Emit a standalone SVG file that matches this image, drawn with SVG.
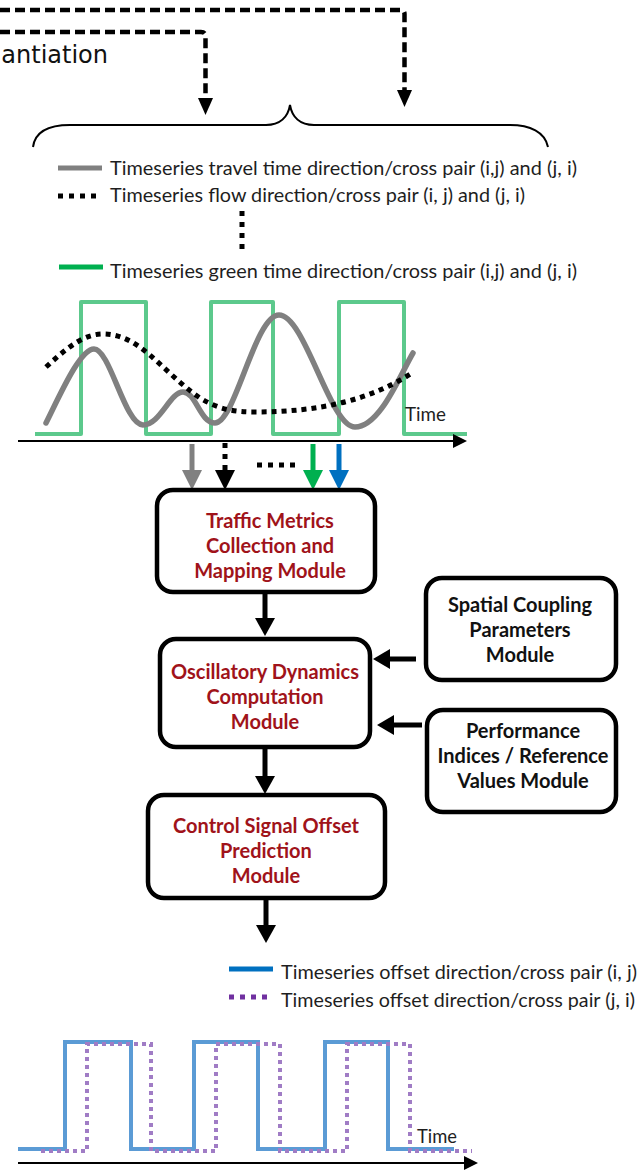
<svg xmlns="http://www.w3.org/2000/svg" width="638" height="1171" viewBox="0 0 638 1171">
  <defs>
    <style>
      .box { fill: #ffffff; stroke: #000000; stroke-width: 4.5; }
      .red { font-family: Lato, "Liberation Sans", sans-serif; font-weight: 700; font-size: 20px; fill: #a0131a; text-anchor: middle; }
      .blk { font-family: Lato, "Liberation Sans", sans-serif; font-weight: 700; font-size: 20px; fill: #111111; text-anchor: middle; }
      .leg { font-family: Lato, "Liberation Sans", sans-serif; font-size: 19px; fill: #1e1e1e; }
      .flow { stroke: #000000; stroke-width: 5; fill: none; }
      .dash { stroke: #000000; stroke-width: 4.5; fill: none; stroke-dasharray: 10 5; }
      .axis { stroke: #000000; stroke-width: 2; fill: none; }
    </style>
  </defs>

  <!-- dashed feeds from the instantiation stage -->
  <g id="instantiation">
    <text x="108" y="63" font-family="DejaVu Sans, sans-serif" font-size="24" text-anchor="end" fill="#111111">antiation</text>
  </g>

  <g id="connectors">
    <!-- dashed top feeds -->
    <path class="dash" d="M0,10 H400 Q404.5,10 404.5,14 V90"/>
    <polygon points="397,90 412,90 404.5,107" fill="#000"/>
    <path class="dash" d="M0,32 H201 Q205.5,32 205.5,36 V98"/>
    <polygon points="198,98 213,98 205.5,115" fill="#000"/>

    <!-- metric arrows into the collection module -->
    <line x1="192" y1="444" x2="192" y2="471" stroke="#808080" stroke-width="5"/>
    <polygon points="182,470 202,470 192,490" fill="#808080"/>
    <line x1="225" y1="443" x2="225" y2="470" stroke="#000" stroke-width="5" stroke-dasharray="5 6"/>
    <polygon points="215,470 235,470 225,490" fill="#000"/>
    <line x1="257" y1="465" x2="298" y2="465" stroke="#000" stroke-width="5" stroke-dasharray="5 6"/>
    <line x1="313" y1="444" x2="313" y2="471" stroke="#00b050" stroke-width="5"/>
    <polygon points="303,470 323,470 313,490" fill="#00b050"/>
    <line x1="339" y1="444" x2="339" y2="471" stroke="#0070c0" stroke-width="5"/>
    <polygon points="329,470 349,470 339,490" fill="#0070c0"/>

    <!-- module chain -->
    <line class="flow" x1="265" y1="592" x2="265" y2="619"/>
    <polygon points="255,618 275,618 265,636" fill="#000"/>
    <line class="flow" x1="416" y1="659" x2="389" y2="659"/>
    <polygon points="390,649 390,669 373,659" fill="#000"/>
    <line class="flow" x1="422" y1="725" x2="393" y2="725"/>
    <polygon points="394,715 394,735 377,725" fill="#000"/>
    <line class="flow" x1="265" y1="747" x2="265" y2="777"/>
    <polygon points="255,776 275,776 265,794" fill="#000"/>
    <line class="flow" x1="266" y1="898" x2="266" y2="926"/>
    <polygon points="256,925 276,925 266,943" fill="#000"/>
  </g>

  <!-- brace grouping the input time series -->
  <g id="brace">
    <path d="M33,147 C35,132 48,125 70,125 L266,125 C280,125 288,117 290,105 C292,117 300,125 314,125 L510,125 C530,125 545,132 548,147" fill="none" stroke="#000" stroke-width="2"/>
  </g>

  <!-- legend of input series -->
  <g id="legend-inputs">
    <line x1="58" y1="168" x2="102" y2="168" stroke="#808080" stroke-width="5"/>
    <text class="leg" x="110" y="175" textLength="467" lengthAdjust="spacingAndGlyphs">Timeseries travel time direction/cross pair (i,j) and (j, i)</text>
    <line x1="58" y1="196" x2="98" y2="196" stroke="#000" stroke-width="5" stroke-dasharray="5 6"/>
    <text class="leg" x="110" y="202" textLength="415" lengthAdjust="spacingAndGlyphs">Timeseries flow direction/cross pair (i, j) and (j, i)</text>
    <line x1="242" y1="211" x2="242" y2="250" stroke="#000" stroke-width="5" stroke-dasharray="5 6"/>
    <line x1="59" y1="267" x2="103" y2="267" stroke="#00b050" stroke-width="5"/>
    <text class="leg" x="110" y="278" textLength="467" lengthAdjust="spacingAndGlyphs">Timeseries green time direction/cross pair (i,j) and (j, i)</text>
  </g>

  <!-- input time series chart -->
  <g id="chart-inputs">
    <path d="M35,434 H81 V302 H146 V434 H211 V302 H273 V434 H339 V302 H404 V434 H467" fill="none" stroke="#5cc98c" stroke-width="4" stroke-linejoin="round"/>
    <path d="M46,423 C60,395 80,349 94,349 C110,349 125,425 143,425 C160,425 170,392 183,392 C196,392 200,423 215,423 C235,423 255,315 279,315 C305,315 330,427 355,427 C380,427 400,375 413,353" fill="none" stroke="#808080" stroke-width="5.5" stroke-linecap="round"/>
    <path d="M46,367 C70,345 85,334 103,334 C140,334 160,370 200,398 C220,410 235,412 255,412 C320,412 370,400 412,373" fill="none" stroke="#000" stroke-width="5" stroke-dasharray="5 5"/>
    <line class="axis" x1="18" y1="441" x2="455" y2="441"/>
    <polygon points="453,434 467,441 453,448" fill="#000"/>
    <text class="leg" x="405" y="421" textLength="41" lengthAdjust="spacingAndGlyphs">Time</text>
  </g>

  <g id="traffic-metrics">
    <rect class="box" x="157" y="490" width="218" height="102" rx="16"/>
    <text class="red" x="270" y="528">Traffic Metrics</text>
    <text class="red" x="270" y="553">Collection and</text>
    <text class="red" x="270" y="578">Mapping Module</text>
  </g>

  <g id="oscillatory-dynamics">
    <rect class="box" x="160" y="639" width="210" height="108" rx="16"/>
    <text class="red" x="265" y="679">Oscillatory Dynamics</text>
    <text class="red" x="265" y="704">Computation</text>
    <text class="red" x="265" y="729">Module</text>
  </g>

  <g id="spatial-coupling">
    <rect class="box" x="426" y="578" width="190" height="102" rx="16"/>
    <text class="blk" x="520" y="612">Spatial Coupling</text>
    <text class="blk" x="520" y="637">Parameters</text>
    <text class="blk" x="520" y="662">Module</text>
  </g>

  <g id="performance-indices">
    <rect class="box" x="427" y="710" width="189" height="102" rx="16"/>
    <text class="blk" x="523" y="738">Performance</text>
    <text class="blk" x="523" y="763">Indices / Reference</text>
    <text class="blk" x="523" y="788">Values Module</text>
  </g>

  <g id="offset-prediction">
    <rect class="box" x="148" y="795" width="237" height="103" rx="16"/>
    <text class="red" x="266" y="833">Control Signal Offset</text>
    <text class="red" x="266" y="858">Prediction</text>
    <text class="red" x="266" y="883">Module</text>
  </g>

  <!-- legend of output series -->
  <g id="legend-outputs">
    <line x1="229" y1="969" x2="273" y2="969" stroke="#0070c0" stroke-width="5"/>
    <text class="leg" x="281" y="979" textLength="356" lengthAdjust="spacingAndGlyphs">Timeseries offset direction/cross pair (i, j)</text>
    <line x1="229" y1="997" x2="270" y2="997" stroke="#7030a0" stroke-width="5" stroke-dasharray="5 6"/>
    <text class="leg" x="281" y="1007" textLength="354" lengthAdjust="spacingAndGlyphs">Timeseries offset direction/cross pair (j, i)</text>
  </g>

  <!-- output offset chart -->
  <g id="chart-outputs">
    <path d="M18,1149 H65 V1042 H131 V1149 H194 V1042 H258 V1149 H325 V1042 H388 V1149 H454" fill="none" stroke="#5b9bd5" stroke-width="4"/>
    <path d="M41,1151 H87 V1044 H151 V1151 H216 V1044 H280 V1151 H347 V1044 H410 V1151 H472" fill="none" stroke="#a07cc5" stroke-width="4" stroke-dasharray="4 4"/>
    <line class="axis" x1="18" y1="1163" x2="466" y2="1163"/>
    <polygon points="464,1156 478,1163 464,1170" fill="#000"/>
    <text class="leg" x="417" y="1143" textLength="40" lengthAdjust="spacingAndGlyphs">Time</text>
  </g>
</svg>
